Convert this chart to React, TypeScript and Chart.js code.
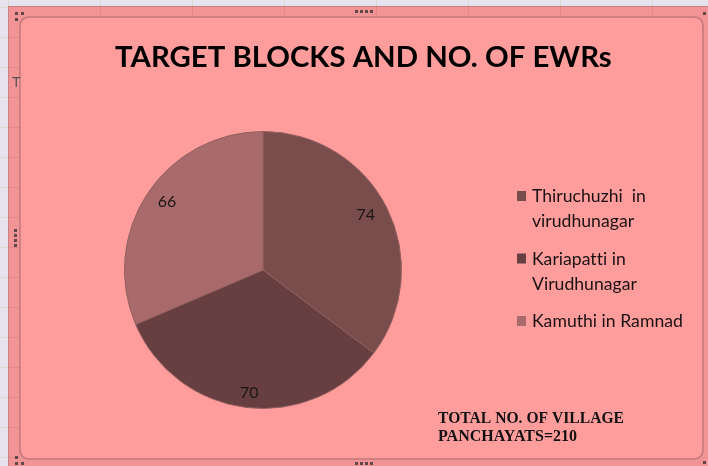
import React, { useEffect, useRef } from "react";
import { Chart, registerables } from "chart.js";

Chart.register(...registerables);

const TITLE = "TARGET BLOCKS AND NO. OF EWRs";
const CATEGORIES: string[][] = [
  ["Thiruchuzhi  in", "virudhunagar"],
  ["Kariapatti in", "Virudhunagar"],
  ["Kamuthi in Ramnad"],
];
const VALUES = [74, 70, 66];
const COLORS = ["#7A4D4D", "#673F40", "#A86A6A"];
const NOTE_LINES = ["TOTAL NO. OF VILLAGE", "PANCHAYATS=210"];

const W = 708;
const H = 466;

function fitSize(ctx: CanvasRenderingContext2D, text: string, weight: string, family: string, target: number) {
  ctx.font = `${weight} 20px ${family}`;
  const w = ctx.measureText(text).width;
  return (20 * target) / w;
}

const framePlugin = {
  id: "frame",
  beforeDraw(chart: any) {
    const ctx: CanvasRenderingContext2D = chart.ctx;
    ctx.save();
    ctx.fillStyle = "#E6E3EE";
    ctx.fillRect(0, 0, W, H);
    ctx.strokeStyle = "#DDD9CC";
    ctx.lineWidth = 1;
    for (let x = 8; x < W; x += 92) {
      ctx.beginPath();
      ctx.moveTo(x + 0.5, 0);
      ctx.lineTo(x + 0.5, 7);
      ctx.stroke();
    }
    for (let y = 7; y < H; y += 30) {
      ctx.beginPath();
      ctx.moveTo(0, y + 0.5);
      ctx.lineTo(8, y + 0.5);
      ctx.stroke();
    }
    ctx.fillStyle = "#F29395";
    ctx.fillRect(8, 6, W - 8, H - 6);
    ctx.strokeStyle = "#E2878A";
    for (let x = 8; x < W; x += 92) {
      ctx.beginPath();
      ctx.moveTo(x + 0.5, 6);
      ctx.lineTo(x + 0.5, 17);
      ctx.stroke();
    }
    for (let y = 37; y < H; y += 30) {
      ctx.beginPath();
      ctx.moveTo(8, y + 0.5);
      ctx.lineTo(20, y + 0.5);
      ctx.stroke();
    }
    ctx.strokeStyle = "#C98082";
    ctx.strokeRect(8.5, 6.5, W, H);
    const x0 = 20, y0 = 17, x1 = 703, y1 = 459, r = 10;
    ctx.beginPath();
    ctx.moveTo(x0 + r, y0);
    ctx.lineTo(x1 - r, y0);
    ctx.quadraticCurveTo(x1, y0, x1, y0 + r);
    ctx.lineTo(x1, y1 - r);
    ctx.quadraticCurveTo(x1, y1, x1 - r, y1);
    ctx.lineTo(x0 + r, y1);
    ctx.quadraticCurveTo(x0, y1, x0, y1 - r);
    ctx.lineTo(x0, y0 + r);
    ctx.quadraticCurveTo(x0, y0, x0 + r, y0);
    ctx.closePath();
    ctx.fillStyle = "#FF9D9D";
    ctx.fill();
    ctx.strokeStyle = "#C47A7C";
    ctx.lineWidth = 1.5;
    ctx.stroke();
    ctx.restore();
  },
  afterDraw(chart: any) {
    const ctx: CanvasRenderingContext2D = chart.ctx;
    ctx.save();
    ctx.fillStyle = "#5E4848";
    const dots: number[][] = [
      [15, 12], [21, 12], [15, 18],
      [355, 10], [360, 10], [365, 10], [370, 10],
      [703, 12],
      [14, 229], [14, 234], [14, 239], [14, 244],
      [15, 456], [15, 462], [21, 462],
      [355, 462], [360, 462], [365, 462], [370, 462],
      [703, 461],
    ];
    dots.forEach(([x, y]) => ctx.fillRect(x, y, 3, 3));
    ctx.fillStyle = "#555";
    ctx.font = "14px 'Liberation Sans'";
    ctx.textAlign = "left";
    ctx.textBaseline = "alphabetic";
    ctx.fillText("T", 12, 87);
    ctx.restore();
  },
};

const textPlugin = {
  id: "texts",
  afterDatasetsDraw(chart: any) {
    const ctx: any = chart.ctx;
    const meta = chart.getDatasetMeta(0);
    const ds = chart.data.datasets[0];
    ctx.save();
    ctx.letterSpacing = "0.01px";
    ctx.fillStyle = "#1B1515";
    ctx.font = "16px Lato";
    ctx.textAlign = "center";
    ctx.textBaseline = "middle";
    meta.data.forEach((arc: any, i: number) => {
      const p = arc.getProps(["x", "y", "startAngle", "endAngle", "outerRadius"], true);
      const mid = (p.startAngle + p.endAngle) / 2;
      const rr = p.outerRadius * 0.83;
      const lx = p.x + Math.cos(mid) * rr;
      const ly = p.y + Math.sin(mid) * rr * 1.08;
      ctx.fillText(String(ds.data[i]), lx, ly);
    });

    ctx.textAlign = "left";
    ctx.textBaseline = "alphabetic";
    ctx.fillStyle = "#000";
    const ts = fitSize(ctx, TITLE, "bold", "Lato", 497);
    ctx.font = `bold ${ts}px Lato`;
    ctx.fillText(TITLE, 115, 67);

    const ls = fitSize(ctx, "Kamuthi in Ramnad", "", "Lato", 151);
    ctx.font = `${ls}px Lato`;
    let base = 202;
    (chart.data.labels as string[][]).forEach((lines, i) => {
      ctx.fillStyle = (ds.backgroundColor as string[])[i];
      ctx.fillRect(517, base - 11, 9, 10);
      ctx.fillStyle = "#1A1212";
      lines.forEach((ln, j) => {
        ctx.fillText(ln, 532, base + j * 25);
      });
      base += (lines.length - 1) * 25 + 37.5;
    });

    ctx.fillStyle = "#111";
    ctx.font = "bold 16px 'Liberation Serif'";
    ctx.fillText(NOTE_LINES[0], 438, 423, 186);
    ctx.fillText(NOTE_LINES[1], 438, 441, 142);
    ctx.restore();
  },
};

export default function App() {
  const ref = useRef<HTMLCanvasElement | null>(null);
  useEffect(() => {
    document.body.style.margin = "0";
    const canvas = ref.current!;
    const chart = new Chart(canvas, {
      type: "pie",
      data: {
        labels: CATEGORIES as any,
        datasets: [
          {
            data: VALUES,
            backgroundColor: COLORS,
            borderColor: "#94605F",
            borderWidth: 1,
          },
        ],
      },
      options: {
        responsive: false,
        animation: false,
        events: [],
        layout: { padding: { left: 124, right: 306, top: 131, bottom: 57 } },
        plugins: {
          legend: { display: false },
          title: { display: false },
          tooltip: { enabled: false },
        },
      },
      plugins: [framePlugin, textPlugin],
    });
    return () => chart.destroy();
  }, []);
  return (
    <div style={{ width: W, height: H }}>
      <canvas ref={ref} width={W} height={H} style={{ display: "block", width: W, height: H }} />
    </div>
  );
}
